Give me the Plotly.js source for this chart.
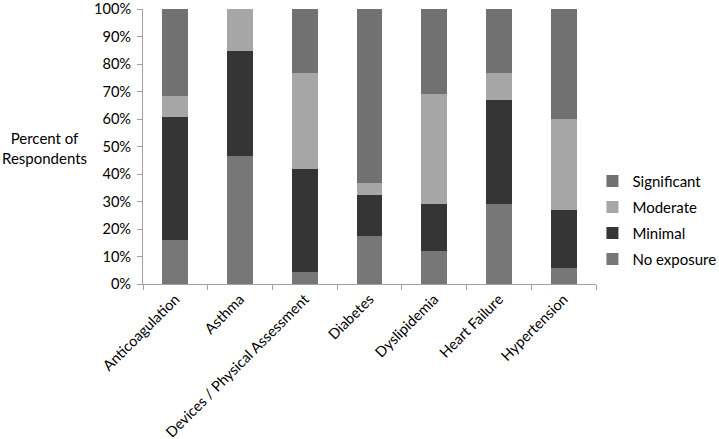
<!DOCTYPE html>
<html>
<head>
<meta charset="utf-8">
<script src="https://cdn.plot.ly/plotly-3.0.1.min.js"></script>
<style>html,body{margin:0;padding:0;background:#fff;}#chart{width:719px;height:439px;}</style>
</head>
<body>
<div id="chart"></div>
<script>
const categories = ["Anticoagulation", "Asthma", "Devices / Physical Assessment", "Diabetes", "Dyslipidemia", "Heart Failure", "Hypertension"];
const noExposure = [15.9, 46.4, 4.2, 17.3, 12.0, 29.2, 6.0];
const minimal    = [44.8, 38.2, 37.6, 15.2, 17.2, 37.8, 21.0];
const moderate   = [7.6, 15.4, 34.9, 4.1, 39.8, 9.7, 32.9];
const significant = [31.7, 0.0, 23.3, 63.4, 31.0, 23.3, 40.1];
const yTickVals = [0, 10, 20, 30, 40, 50, 60, 70, 80, 90, 100];
const yTickText = ["0%", "10%", "20%", "30%", "40%", "50%", "60%", "70%", "80%", "90%", "100%"];

const font = "Lato, 'Open Sans', sans-serif";
function tr(name, vals, color, rank) {
  return {type: "bar", name: name, legendgroup: name, legendrank: rank, x: categories, y: vals, marker: {color: color}, hoverinfo: "skip"};
}
const data = [
  tr("No exposure", noExposure, "#777777", 4),
  tr("Minimal", minimal, "#353535", 3),
  tr("Moderate", moderate, "#a6a6a6", 2),
  tr("Significant", significant, "#717171", 1)
];
const layout = {
  width: 719, height: 439,
  margin: {l: 143, r: 123, t: 9, b: 155, autoexpand: false},
  barmode: "stack",
  bargap: 0.6,
  paper_bgcolor: "#fff", plot_bgcolor: "#fff",
  font: {family: font, size: 15, color: "#000"},
  xaxis: {
    tickangle: -45, showline: true, linecolor: "#a0a0a0", linewidth: 1,
    ticks: "outside", tickson: "boundaries", ticklen: 5, tickcolor: "#a0a0a0",
    showgrid: false, tickfont: {size: 14.6, family: font}, automargin: false,
    ticklabeloverflow: "allow"
  },
  yaxis: {
    range: [0, 100], tickvals: yTickVals, ticktext: yTickText,
    showline: true, linecolor: "#a0a0a0", linewidth: 1,
    ticks: "outside", ticklen: 5, tickcolor: "#a0a0a0",
    showgrid: false, zeroline: false, tickfont: {size: 14.6, family: font},
    ticklabelstandoff: 3,
    automargin: false, ticklabeloverflow: "allow"
  },
  legend: {
    xref: "container", yref: "container",
    x: 0.824, xanchor: "left", y: 0.625, yanchor: "top",
    traceorder: "grouped", tracegroupgap: 3.5,
    font: {size: 15, family: font}, itemwidth: 30
  },
  annotations: [{
    text: "Percent of<br>Respondents", xref: "paper", yref: "paper",
    x: -0.218, y: 0.493, xanchor: "center", yanchor: "middle",
    showarrow: false, align: "center", font: {size: 15, family: font}
  }]
};
Plotly.newPlot("chart", data, layout, {staticPlot: true, displayModeBar: false});
</script>
</body>
</html>
